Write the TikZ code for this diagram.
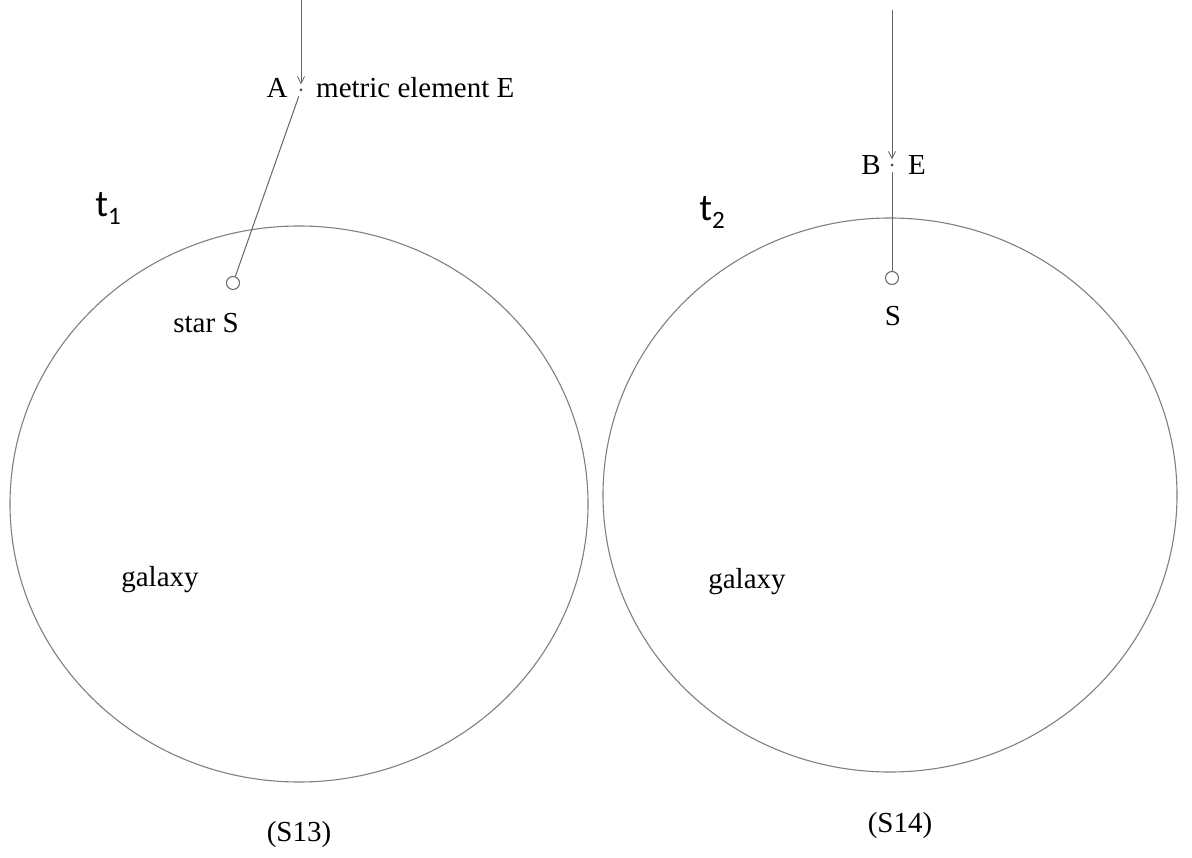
\documentclass[tikz,border=0pt]{standalone}
\usepackage{fontspec}
\setmainfont{Liberation Serif}
\newfontfamily\tfont{Carlito}
\usetikzlibrary{arrows.meta}
\definecolor{lgray}{HTML}{808080}
\definecolor{dgray}{HTML}{666666}
\begin{document}
\begin{tikzpicture}[x=1pt,y=-1pt,
  galaxyedge/.style={draw=lgray,line width=1.1pt},
  conn/.style={draw=dgray,line width=1pt},
  arr/.style={conn,-{Straight Barb[length=7pt,width=7pt,line width=0.8pt]},shorten >=4pt},
  starnode/.style={circle,draw=dgray,line width=1pt,minimum size=13pt,inner sep=0pt},
  dotnode/.style={circle,fill=black!75,minimum size=3pt,inner sep=0pt},
  lbl/.style={font=\fontsize{29}{32}\selectfont,inner sep=0pt,text=black},
  tlbl/.style={font=\tfont\fontsize{38}{40}\selectfont,inner sep=0pt,text=black}
]
\useasboundingbox (0,0) rectangle (1192,858);
\fill[white] (0,0) rectangle (1192,858);

% galaxies
\draw[galaxyedge] (299,504) ellipse [x radius=289pt, y radius=278pt];
\draw[galaxyedge] (890,495) ellipse [x radius=287pt, y radius=277pt];

% left panel
\coordinate (topA) at (301,0);
\node[dotnode] (dotA) at (301,90) {};
\node[starnode] (starA) at (233,283) {};
\draw[arr] (topA) -- (dotA);
\draw[conn,shorten <=5pt] (dotA) -- (starA);
\node[lbl] (labA) at (277,88) {A};
\node[lbl,anchor=west] (labmetric) at (316,88) {metric element E};
\node[lbl] (labstar) at (206,323) {star S};
\node[tlbl] (t1) at (108,208) {t\raisebox{-8pt}{\fontsize{25}{27}\selectfont 1}};
\node[lbl] (gal1) at (160,580) {galaxy};
\node[lbl] (s13) at (299,835) {(S13)};

% right panel
\coordinate (topB) at (892,10);
\node[dotnode] (dotB) at (892,165) {};
\node[starnode] (starB) at (892,278) {};
\draw[arr] (topB) -- (dotB);
\draw[conn,shorten <=5pt] (dotB) -- (starB);
\node[lbl] (labB) at (871,165) {B};
\node[lbl] (labE) at (917,165) {E};
\node[lbl] (labS) at (893,316) {S};
\node[tlbl] (t2) at (712,212) {t\raisebox{-8pt}{\fontsize{25}{27}\selectfont 2}};
\node[lbl] (gal2) at (747,582) {galaxy};
\node[lbl] (s14) at (900,826) {(S14)};
\end{tikzpicture}
\end{document}
